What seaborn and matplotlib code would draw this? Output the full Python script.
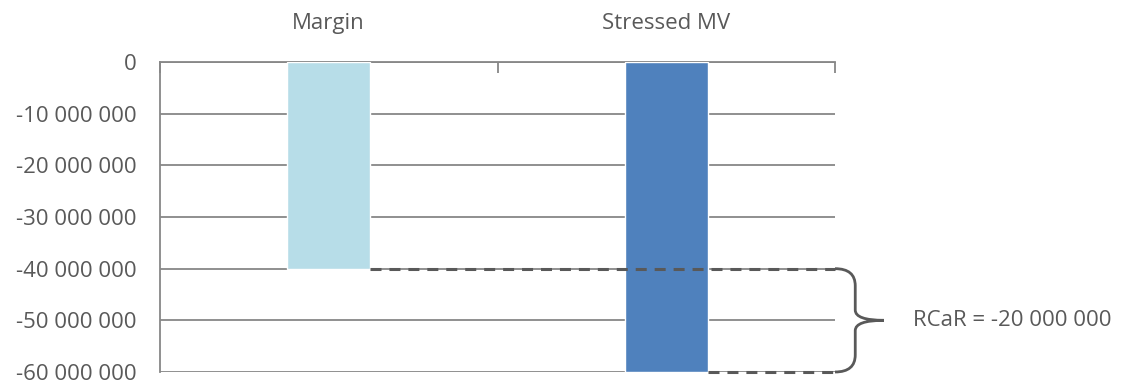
import matplotlib
matplotlib.use("Agg")
import matplotlib.pyplot as plt
import seaborn as sns
import pandas as pd
from matplotlib.path import Path
from matplotlib.patches import PathPatch
from matplotlib.ticker import FuncFormatter, FixedLocator

# Chart data
categories = ["Margin", "Stressed MV"]
values = [-40_000_000, -60_000_000]
bar_colors = ["#B7DDE8", "#4F81BD"]
y_ticks = [0, -10_000_000, -20_000_000, -30_000_000, -40_000_000, -50_000_000, -60_000_000]

rcar = values[1] - values[0]

sns.set_theme(style="white")
plt.rcParams["font.family"] = ["Open Sans", "DejaVu Sans"]

TEXT = "#595959"
GRID = "#878787"
FS = 16


def spaced(v):
    return f"{v:,.0f}".replace(",", " ")


fig = plt.figure(figsize=(11.24, 3.86), dpi=100)
ax = fig.add_axes([160 / 1124, 1 - 372 / 386, (835 - 160) / 1124, (372 - 62) / 386])

df = pd.DataFrame({"category": categories, "value": values})
sns.barplot(data=df, x="category", y="value", hue="category",
            palette=bar_colors, width=0.246, legend=False, ax=ax,
            saturation=1, zorder=3)

ax.set_xlim(-0.5, 1.5)
ax.set_ylim(min(y_ticks), max(y_ticks))
ax.set_xlabel("")
ax.set_ylabel("")

# Value axis
ax.yaxis.set_major_locator(FixedLocator(y_ticks))
ax.yaxis.set_major_formatter(FuncFormatter(lambda v, _: spaced(v)))
ax.tick_params(axis="y", direction="out", length=8, width=1.3, color=GRID,
               labelsize=FS, labelcolor=TEXT, pad=9)
for yv in y_ticks:
    ax.axhline(yv, color=GRID, lw=1.3, zorder=1)

# Category axis on top
ax.xaxis.tick_top()
ax.set_xticks([0, 1])
ax.set_xticklabels(categories)
ax.set_xticks([-0.5, 0.5, 1.5], minor=True)
ax.tick_params(axis="x", which="major", length=0, labelsize=FS, labelcolor=TEXT, pad=20)
ax.tick_params(axis="x", which="minor", direction="in", length=8, width=1.3, color=GRID,
               top=True, bottom=False)

for side in ["right", "bottom"]:
    ax.spines[side].set_visible(False)
ax.spines["left"].set_color(GRID)
ax.spines["left"].set_linewidth(1.3)
ax.spines["top"].set_color(GRID)
ax.spines["top"].set_linewidth(1.3)

# Dashed level lines from the bar edges to the brace
half_w = 0.246 / 2
line_kw = dict(color=TEXT, lw=2.2, ls=(0, (3.6, 2.6)), zorder=4, clip_on=False)
ax.plot([0 + half_w, 1.5], [values[0], values[0]], **line_kw)
ax.plot([1 + half_w, 1.5], [values[1], values[1]], **line_kw)

# Curly brace spanning the difference
top, bot = values[0], values[1]
mid = (top + bot) / 2
x0, x1, x2 = 1.5, 1.56, 1.645
r = 3_300_000
verts = [
    (x0, top), (x1, top), (x1, top - r),
    (x1, mid + r * 0.6),
    (x1, mid), (x2, mid),
    (x1, mid), (x1, mid - r * 0.6),
    (x1, bot + r),
    (x1, bot), (x0, bot),
]
codes = [Path.MOVETO, Path.CURVE3, Path.CURVE3,
         Path.LINETO,
         Path.CURVE3, Path.CURVE3,
         Path.CURVE3, Path.CURVE3,
         Path.LINETO,
         Path.CURVE3, Path.CURVE3]
ax.add_patch(PathPatch(Path(verts, codes), fill=False, ec=TEXT, lw=2,
                       clip_on=False, zorder=4))

ax.text(1.73, mid, f"RCaR = {spaced(rcar)}", va="center", ha="left",
        fontsize=FS, color=TEXT, clip_on=False)

fig.savefig("out.png", dpi=100)
